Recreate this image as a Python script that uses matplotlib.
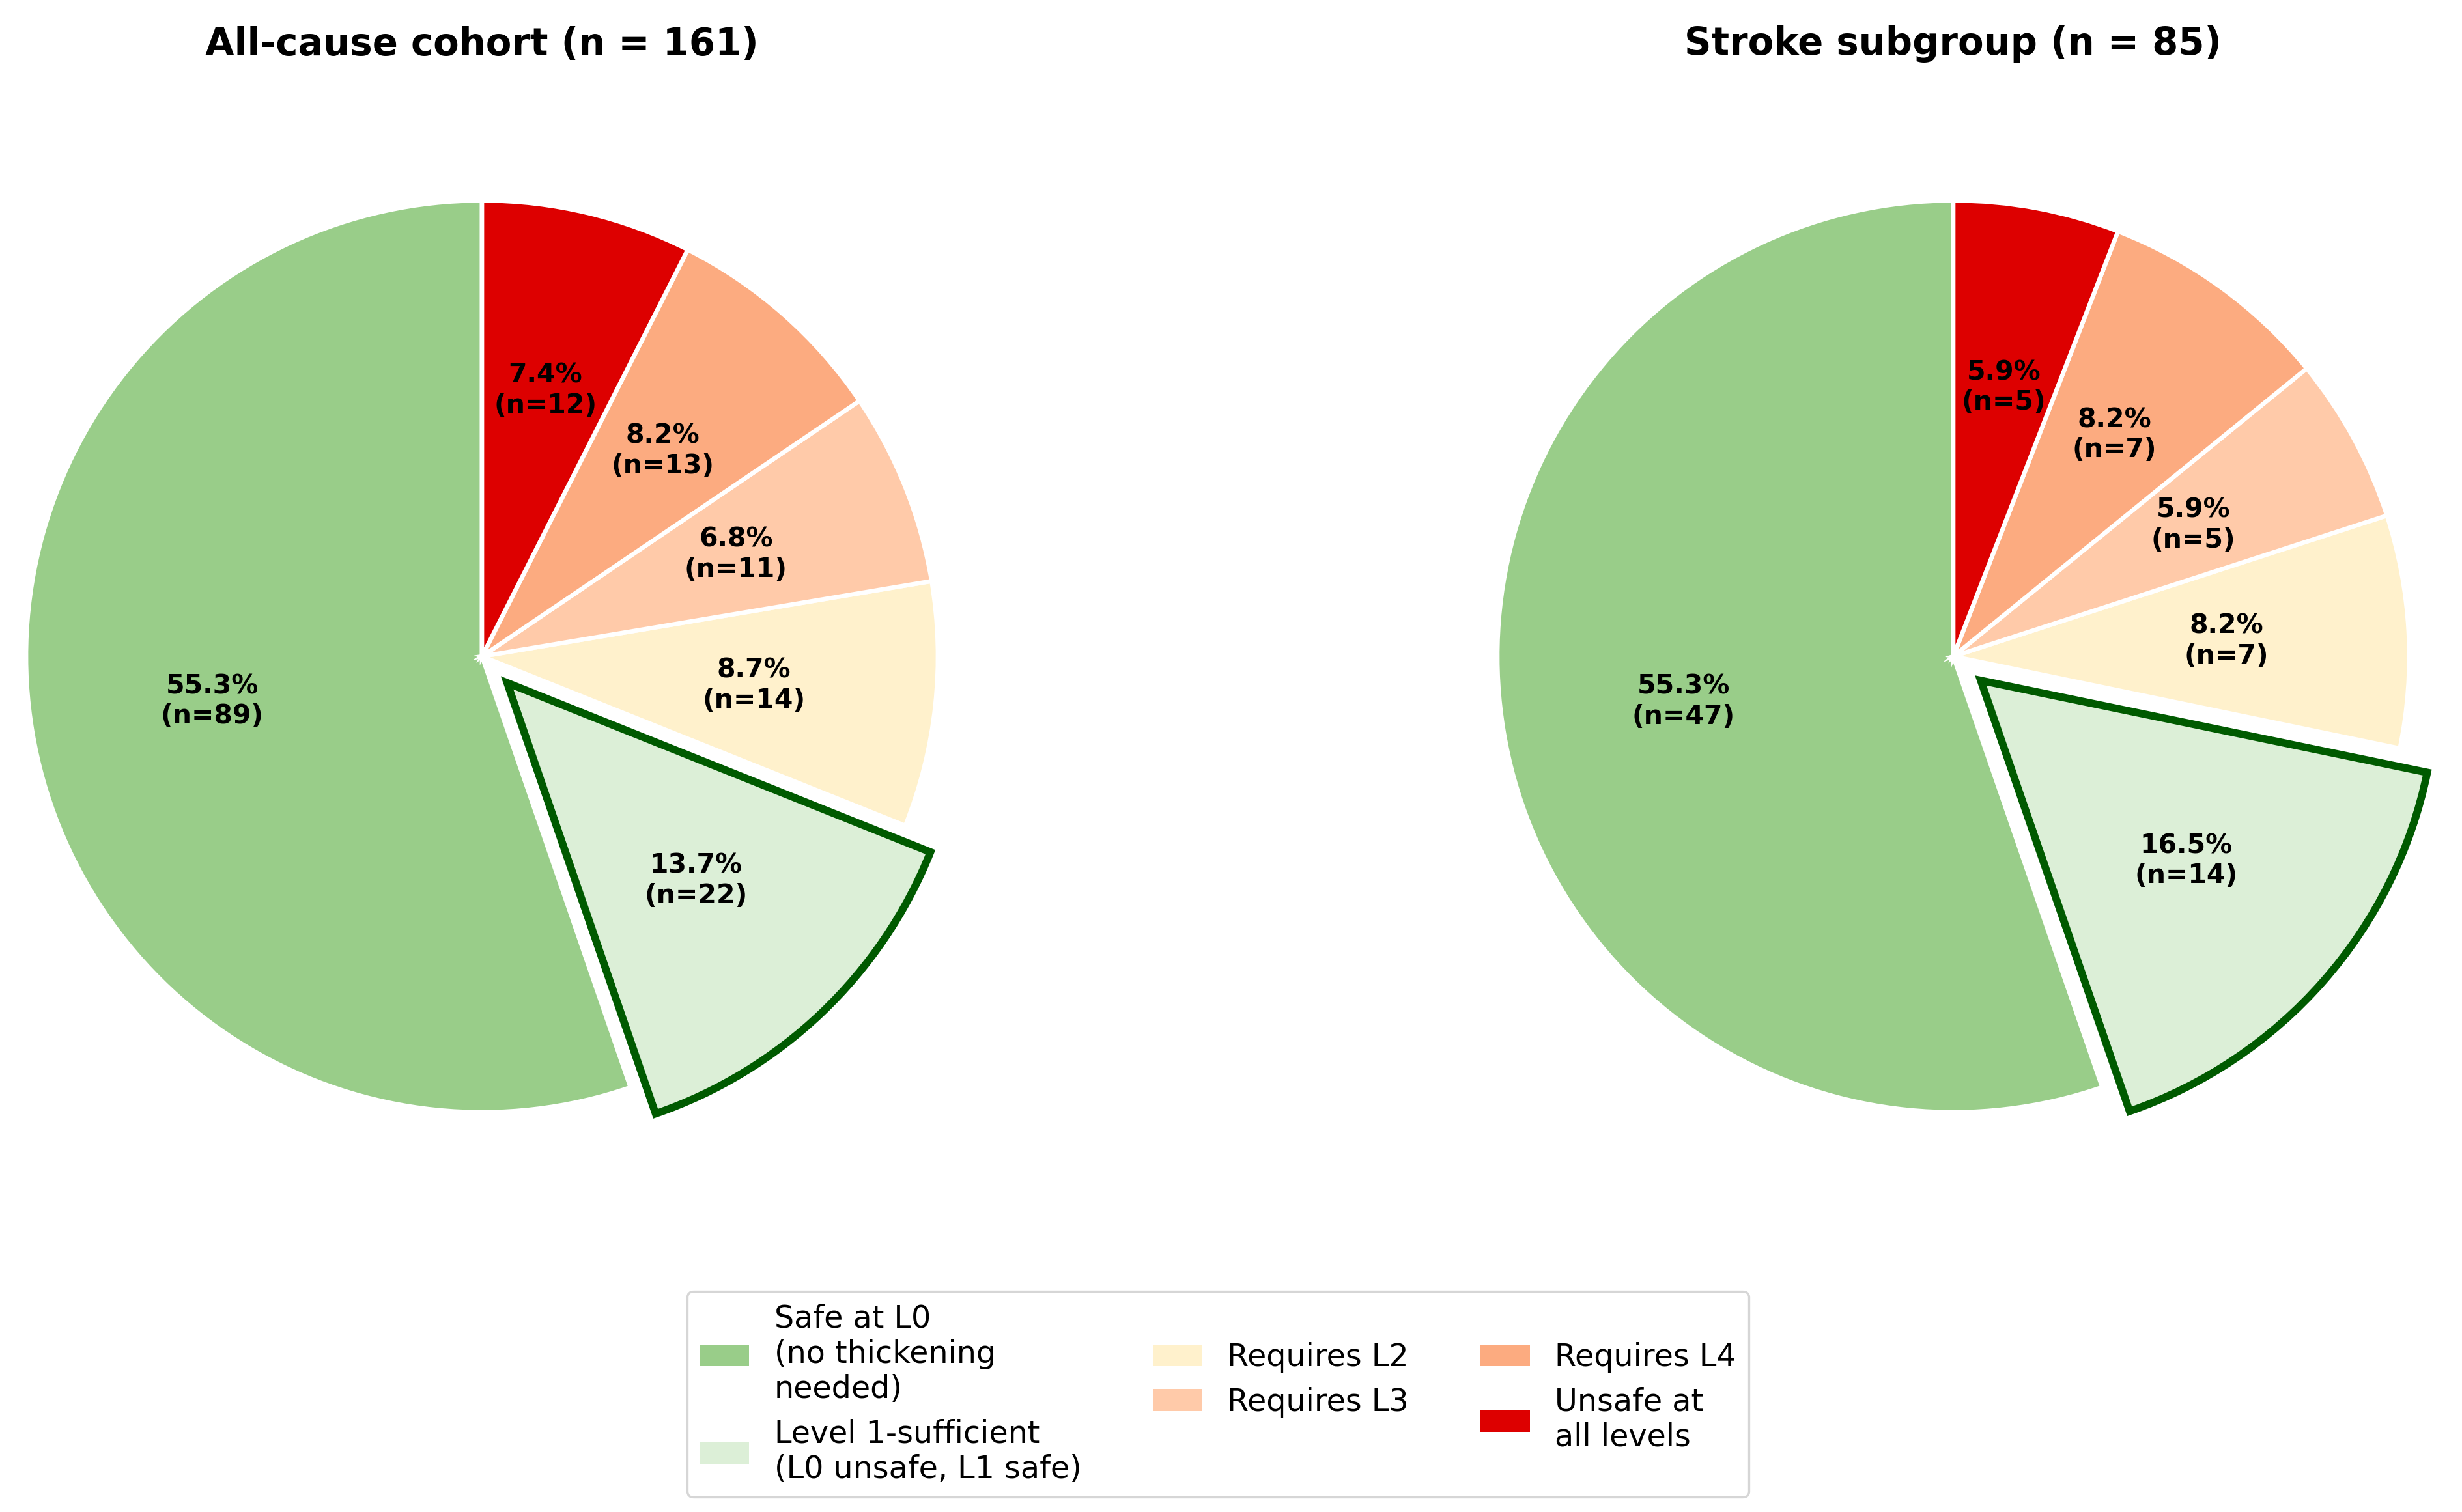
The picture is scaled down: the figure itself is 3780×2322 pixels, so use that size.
import matplotlib
matplotlib.use("Agg")
import matplotlib.pyplot as plt
from matplotlib.patches import Patch

plt.rcParams['font.family'] = ['DejaVu Sans']

categories = ["Safe at L0\n(no thickening\nneeded)",
              "Level 1-sufficient\n(L0 unsafe, L1 safe)",
              "Requires L2", "Requires L3", "Requires L4",
              "Unsafe at\nall levels"]
colors = ["#99CD89", "#DCEFD7", "#FFF1CC", "#FFCAA9", "#FCAB80", "#DD0000"]

allcause_counts = [89, 22, 14, 11, 13, 12]
allcause_pct = [55.3, 13.7, 8.7, 6.8, 8.2, 7.4]
stroke_counts = [47, 14, 7, 5, 7, 5]
stroke_pct = [55.3, 16.5, 8.2, 5.9, 8.2, 5.9]
titles = ["All-cause cohort (n = 161)", "Stroke subgroup (n = 85)"]
explode = [0, 0.08, 0, 0, 0, 0]

W, H = 3780, 2322
fig = plt.figure(figsize=(W / 240, H / 240), dpi=240)

lim = 1.15
R = 700
size = 2 * lim * R
centers = [(740, 1008), (2999, 1008)]

for (cx, cy), counts, pcts, title in zip(centers, [allcause_counts, stroke_counts],
                                         [allcause_pct, stroke_pct], titles):
    ax = fig.add_axes([(cx - size / 2) / W, (H - cy - size / 2) / H, size / W, size / H])
    labels_iter = iter([f"{p:.1f}%\n(n={n})" for p, n in zip(pcts, counts)])

    def fmt(p, it=labels_iter):
        return next(it)

    wedges, texts, autotexts = ax.pie(
        counts, colors=colors, explode=explode, startangle=90,
        autopct=fmt, pctdistance=0.6,
        wedgeprops=dict(edgecolor="white", linewidth=2),
        textprops=dict(fontsize=12.3, fontweight="bold", color="black"))
    wedges[1].set_edgecolor("#005A00")
    wedges[1].set_linewidth(3.5)
    ax.set_xlim(-lim, lim)
    ax.set_ylim(-lim, lim)
    ax.set_aspect("equal")
    ax.axis("off")
    fig.text(cx / W, 1 - 68 / H, title, ha="center", va="center",
             fontsize=17.3, fontweight="bold")

handles = [Patch(facecolor=c, edgecolor="none") for c in colors]
leg = fig.legend(handles, categories, loc="center", bbox_to_anchor=(1870 / W, 1 - 2141 / H),
                 ncol=3, fontsize=14.3, frameon=True, handlelength=1.6,
                 columnspacing=2.3, labelspacing=0.45)
leg.get_frame().set_edgecolor("#CCCCCC")

fig.savefig("out.png", dpi=240, facecolor="white")
